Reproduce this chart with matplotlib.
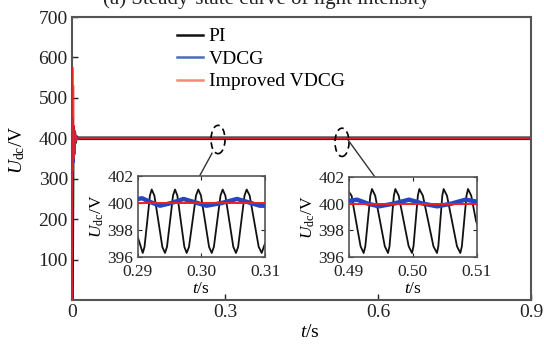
import matplotlib
matplotlib.use("Agg")
import matplotlib.pyplot as plt
from matplotlib.patches import Ellipse

plt.rcParams['font.family'] = ['Liberation Serif', 'DejaVu Serif']
plt.rcParams['mathtext.fontset'] = 'custom'
plt.rcParams['mathtext.rm'] = 'Liberation Serif'
plt.rcParams['mathtext.it'] = 'Liberation Serif:italic'

# main plot: start-up transient then steady 400 V
t_pi = [0, 0.0015, 0.003, 0.0045, 0.006, 0.008, 0.011, 0.9]
u_pi = [0, 430, 360, 415, 390, 404, 400, 400]
t_vdcg = [0, 0.0015, 0.003, 0.0045, 0.006, 0.008, 0.011, 0.9]
u_vdcg = [0, 450, 340, 420, 385, 406, 400, 400]
t_imp = [0, 0.0008, 0.0016, 0.0024, 0.0032, 0.004, 0.005, 0.006, 0.007, 0.008, 0.010, 0.012, 0.9]
u_imp = [0, 575, 320, 530, 350, 430, 380, 415, 392, 405, 398, 400, 400]

# zoom window 1 (0.29 - 0.31 s)
z1_t_pi = [0.29000, 0.29079, 0.29107, 0.29150, 0.29192, 0.29220, 0.29262, 0.29325, 0.29387,
           0.29429, 0.29460, 0.29508, 0.29555, 0.29586, 0.29623, 0.29678, 0.29733,
           0.29770, 0.29806, 0.29861, 0.29916, 0.29952, 0.29994, 0.30058, 0.30121,
           0.30163, 0.30197, 0.30249, 0.30301, 0.30335, 0.30377, 0.30440, 0.30502,
           0.30544, 0.30578, 0.30628, 0.30678, 0.30712, 0.30759, 0.30830, 0.30901,
           0.30948, 0.31000]
z1_u_pi = [397.5, 396.3, 396.75, 398.65, 400.55, 401.0, 400.55, 398.65, 396.75,
           396.3, 396.75, 398.65, 400.55, 401.0, 400.55, 398.65, 396.75,
           396.3, 396.75, 398.65, 400.55, 401.0, 400.55, 398.65, 396.75,
           396.3, 396.75, 398.65, 400.55, 401.0, 400.55, 398.65, 396.75,
           396.3, 396.75, 398.65, 400.55, 401.0, 400.55, 398.65, 396.75,
           396.3, 397.0]
z1_t_vdcg = [0.2900, 0.2907, 0.2921, 0.2935, 0.2953, 0.2972, 0.2990, 0.3008, 0.3032, 0.3056, 0.3074, 0.3092, 0.3100]
z1_u_vdcg = [400.3, 400.35, 400.05, 399.8, 400.0, 400.3, 400.05, 399.8, 400.0, 400.3, 400.05, 399.8, 399.8]
z1_t_imp = [0.29, 0.31]
z1_u_imp = [400.0, 400.0]

# zoom window 2 (0.49 - 0.51 s)
z2_t_pi = [0.49000, 0.49045, 0.49114, 0.49185, 0.49233, 0.49259, 0.49298, 0.49337, 0.49363,
           0.49413, 0.49488, 0.49563, 0.49613, 0.49636, 0.49670, 0.49704, 0.49727,
           0.49779, 0.49857, 0.49935, 0.49987, 0.50010, 0.50044, 0.50078, 0.50101,
           0.50156, 0.50239, 0.50321, 0.50376, 0.50397, 0.50428, 0.50459, 0.50480,
           0.50532, 0.50610, 0.50688, 0.50740, 0.50764, 0.50800, 0.50836, 0.50860,
           0.50910, 0.50985, 0.51000]
z2_u_pi = [400.9, 400.6, 398.7, 396.8, 396.3, 396.8, 398.7, 400.6, 401.1,
           400.6, 398.7, 396.8, 396.3, 396.8, 398.7, 400.6, 401.1,
           400.6, 398.7, 396.8, 396.3, 396.8, 398.7, 400.6, 401.1,
           400.6, 398.7, 396.8, 396.3, 396.8, 398.7, 400.6, 401.1,
           400.6, 398.7, 396.8, 396.3, 396.8, 398.7, 400.6, 401.1,
           400.6, 398.7, 398.5]
z2_t_vdcg = [0.4900, 0.4913, 0.4930, 0.4947, 0.4970, 0.4994, 0.5016, 0.5038, 0.5060, 0.5082, 0.5100]
z2_u_vdcg = [400.2, 400.3, 400.0, 399.8, 400.0, 400.3, 400.0, 399.8, 400.0, 400.3, 400.15]
z2_t_imp = [0.49, 0.51]
z2_u_imp = [400.0, 400.0]

c_pi = '#111111'
c_vdcg = '#2846c0'
c_imp = '#f01e1e'

fig = plt.figure(figsize=(5.44, 3.45), dpi=100)
ax = fig.add_axes([72/544, 45/345, 459/544, 283/345])

ax.plot(t_pi, u_pi, color=c_pi, lw=2.6, label='PI', zorder=2)
ax.plot(t_vdcg, u_vdcg, color=c_vdcg, lw=1.5, label='VDCG', zorder=3)
ax.plot(t_imp, u_imp, color=c_imp, lw=1.4, alpha=0.85, label='Improved VDCG', zorder=4)

ax.set_xlim(0, 0.9)
ax.set_ylim(0, 700)
ax.set_xticks([0, 0.3, 0.6, 0.9])
ax.set_xticklabels(['0', '0.3', '0.6', '0.9'])
ax.set_yticks([100, 200, 300, 400, 500, 600, 700])
ax.tick_params(direction='in', length=4, width=1, labelsize=14, pad=3, colors='#222222')
for s in ax.spines.values():
    s.set_color('#555555')
    s.set_linewidth(1.5)
ax.set_xlabel(r'$t$/s', fontsize=14)
ax.xaxis.set_label_coords(0.5185, -0.085)
ax.set_ylabel(r'$U_{\rm dc}$/V', fontsize=14)
ax.yaxis.set_label_coords(-0.097, 0.53)

leg = ax.legend(loc='upper left', bbox_to_anchor=(0.228, 0.962), frameon=False, fontsize=14,
                handlelength=1.35, handletextpad=0.3, labelspacing=0.25, borderpad=0, borderaxespad=0)
for ln, col in zip(leg.get_lines(), ['#111111', '#4a6cc0', '#f58a78']):
    ln.set_color(col)
    ln.set_linewidth(1.8)
    ln.set_alpha(1)

# dashed ellipses marking the zoom windows and connector lines
for tc, vc in [(0.2863, 397), (0.5294, 390)]:
    ax.add_patch(Ellipse((tc, vc), 0.0275, 70, fill=False, ec='black', lw=1.2,
                         ls=(0, (4, 2.5)), zorder=6, clip_on=False))
ax.plot([0.2745, 0.2490], [363, 304], color='#333333', lw=1.0, zorder=6)
ax.plot([0.5412, 0.5941], [396, 304], color='#333333', lw=1.0, zorder=6)

fig.text(0.49, 1 - 4/345, '(a) Steady-state curve of light intensity', fontsize=15,
         ha='center', va='baseline', color='#222222')


def inset(rect, tp, up, tv, uv, ti, ui, xt):
    a = fig.add_axes(rect)
    a.plot(tp, up, color=c_pi, lw=1.3, zorder=2)
    a.plot(tv, uv, color=c_vdcg, lw=3.2, zorder=3)
    a.plot(ti, ui, color=c_imp, lw=1.4, zorder=4)
    a.set_xlim(xt[0], xt[-1])
    a.set_ylim(396, 402)
    a.set_xticks(xt)
    a.set_xticklabels(['%.2f' % v for v in xt])
    a.set_yticks([396, 398, 400, 402])
    a.tick_params(direction='in', length=3, width=0.8, labelsize=12.5, top=True, right=True,
                  colors='#222222')
    a.tick_params(axis='x', pad=5)
    a.tick_params(axis='y', pad=3)
    for s in a.spines.values():
        s.set_color('#555555')
        s.set_linewidth(1.2)
    a.set_xlabel(r'$t$/s', fontsize=12.5, labelpad=1)
    a.set_ylabel(r'$U_{\rm dc}$/V', fontsize=12.5, labelpad=1)
    return a


ax1 = inset([137.7/544, 88/345, 127.3/544, 81/345], z1_t_pi, z1_u_pi, z1_t_vdcg, z1_u_vdcg,
            z1_t_imp, z1_u_imp, [0.29, 0.30, 0.31])
ax2 = inset([348.7/544, 88/345, 128.3/544, 80/345], z2_t_pi, z2_u_pi, z2_t_vdcg, z2_u_vdcg,
            z2_t_imp, z2_u_imp, [0.49, 0.50, 0.51])

fig.savefig('out.png', dpi=100)
